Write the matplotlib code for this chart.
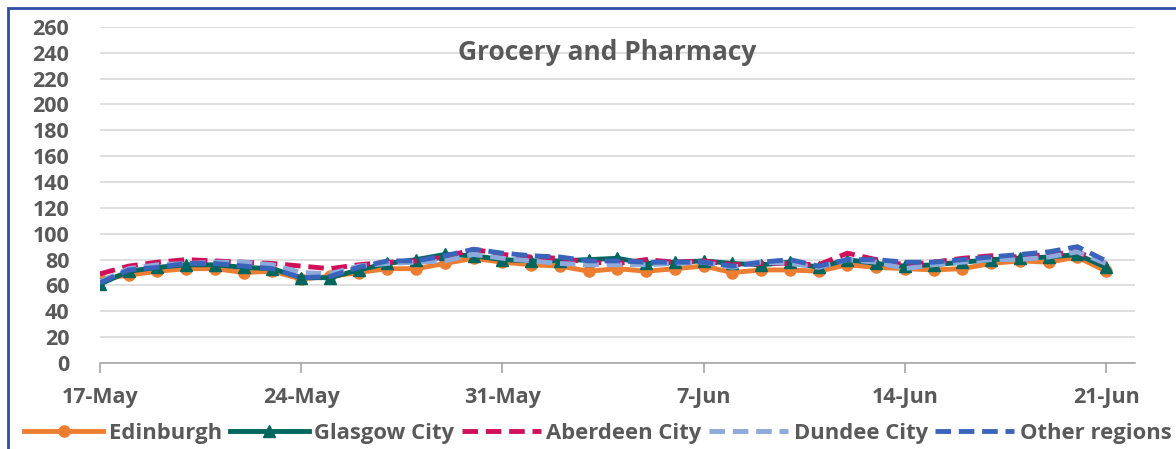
import matplotlib
matplotlib.use('Agg')
import matplotlib.pyplot as plt
import matplotlib.dates as mdates
from matplotlib.patches import Rectangle
import pandas as pd

# 数据
dates = pd.date_range('2020-05-17', '2020-06-21', freq='D')
edinburgh = [65, 68, 71, 73, 73, 70, 71, 65, 67, 70, 73, 73, 77, 81, 78, 76, 75, 71,
             73, 71, 73, 75, 70, 72, 72, 71, 76, 74, 73, 72, 73, 77, 79, 78, 82, 71]
glasgow = [61, 71, 74, 76, 76, 74, 73, 66, 66, 72, 77, 80, 84, 83, 80, 79, 79, 80,
           81, 77, 78, 79, 77, 76, 78, 74, 80, 77, 75, 76, 78, 80, 81, 82, 84, 74]
aberdeen = [69, 75, 78, 80, 79, 78, 77, 75, 73, 76, 78, 79, 82, 88, 84, 82, 81, 78,
            77, 80, 78, 79, 76, 77, 77, 76, 85, 80, 76, 78, 81, 83, 82, 84, 86, 77]
dundee = [63, 73, 76, 77, 78, 78, 76, 70, 69, 75, 77, 78, 79, 84, 81, 79, 77, 76,
          76, 76, 77, 78, 74, 78, 77, 74, 80, 78, 73, 76, 78, 80, 80, 82, 86, 77]
other = [62, 72, 74, 77, 77, 75, 73, 66, 67, 74, 79, 79, 83, 88, 85, 83, 82, 79,
         79, 78, 78, 78, 75, 78, 80, 75, 80, 80, 78, 78, 80, 82, 84, 86, 90, 79]

plt.rcParams['font.family'] = ['Open Sans', 'DejaVu Sans']
gray = '#595959'
dash = (0, (3.2, 1.6))

fig = plt.figure(figsize=(11.76, 4.49), dpi=100)
ax = fig.add_axes([0.085, 0.1915, 0.88, 0.7485])

ax.plot(dates, edinburgh, color='#ED7D31', lw=3.5, marker='o', ms=8, label='Edinburgh', zorder=3)
ax.plot(dates, glasgow, color='#00665E', lw=3.5, marker='^', ms=8, label='Glasgow City', zorder=4)
ax.plot(dates, aberdeen, color='#D0105A', lw=3.5, ls=dash, label='Aberdeen City', zorder=5)
ax.plot(dates, dundee, color='#8EAADB', lw=3.5, ls=dash, label='Dundee City', zorder=6)
ax.plot(dates, other, color='#3A64BB', lw=3.5, ls=dash, label='Other regions', zorder=7)

ax.set_ylim(0, 260)
ax.set_yticks(range(0, 261, 20))
ax.set_xlim(dates[0], dates[-1] + pd.Timedelta(days=1))
ax.set_xticks(dates[::7])
ax.xaxis.set_major_formatter(mdates.DateFormatter('%-d-%b'))

ax.grid(axis='y', color='#D9D9D9', lw=1.2)
ax.set_axisbelow(True)
for s in ['top', 'right', 'left']:
    ax.spines[s].set_visible(False)
ax.spines['bottom'].set_color('#A6A6A6')
ax.spines['bottom'].set_linewidth(1.2)
ax.tick_params(axis='y', length=0, pad=22, labelsize=15.5, labelcolor=gray)
ax.tick_params(axis='x', length=7, width=1.2, color='#A6A6A6', pad=10, labelsize=15.5, labelcolor=gray)
for t in ax.get_xticklabels() + ax.get_yticklabels():
    t.set_fontweight('bold')

ax.text(0.49, 0.925, 'Grocery and Pharmacy', transform=ax.transAxes, ha='center', va='center',
        fontsize=19, fontweight='bold', color=gray)

fig.legend(loc='center', bbox_to_anchor=(598 / 1176, 1 - 433 / 449), ncol=5, frameon=False,
           handlelength=3.6, handletextpad=0.25, columnspacing=0.35,
           prop={'weight': 'bold', 'size': 15.8}, labelcolor=gray)

# 边框
fig.add_artist(Rectangle((8 / 1176, -0.2), 1.2, 1.2 - 8 / 449, transform=fig.transFigure,
                         fill=False, edgecolor='#2F4EA3', lw=2))

fig.savefig('out.png', dpi=100)
